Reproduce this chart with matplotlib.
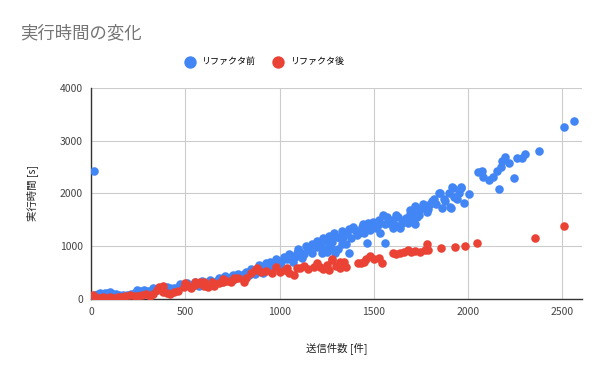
import matplotlib
matplotlib.use('Agg')
import matplotlib.pyplot as plt

plt.rcParams['font.family'] = ['Noto Sans CJK JP', 'DejaVu Sans']

# リファクタ前 (送信件数, 実行時間)
before_x = [5, 16, 20, 35, 48, 60, 75, 90, 101, 115, 130, 150, 170, 190, 210, 230, 243, 260, 280, 300,
            320, 349, 370, 390, 420, 437, 460, 480, 500, 520, 543, 560, 580, 600, 620, 649, 670, 702, 720,
            740, 773, 790, 810, 830, 862, 880, 900, 920, 950, 970, 990, 1021, 1040, 1060, 1092, 1110, 1130,
            1150, 1180, 1200, 1220, 1242, 1260, 1280, 1304, 1320, 1339, 1366, 1295, 1224, 1350, 1387, 1400,
            1410, 1437, 1450, 1463, 1480, 1490, 1498, 1520, 1534, 1548, 1562, 1580, 1596, 1610, 1631, 1640,
            1660, 1672, 1690, 1707, 1716, 1716, 1729, 1745, 1764, 1790, 1817, 1830, 1847, 1852, 1861, 1880,
            1897, 1905, 1911, 1914, 1918, 1923, 1940, 1962, 1964, 1981, 2003, 2052, 2074, 2079, 2114, 2132,
            2153, 2164, 2175, 2182, 2194, 2220, 2245, 2259, 2289, 2300, 2376, 2509, 2565,
            940, 1000, 1070, 1120, 1170, 1230, 1270, 1310, 1330, 1360, 1380, 1420, 1460, 1510, 1560, 1600,
            1650, 1680, 1700, 1740, 1780, 1800, 1870, 1950, 450, 530, 570, 610, 650, 690, 730, 760, 800,
            840, 870, 910, 960, 1250, 1280,
            330, 400, 470, 510, 550, 590, 630, 680, 710, 750, 780, 820, 850, 890, 930, 980, 1010, 1050,
            1080, 1100, 1140, 1170, 1200, 1230, 1260, 1290, 1330, 1370, 1440, 1470, 1530, 1570, 1620,
            1690, 1760, 1810]
before_y = [60, 2427, 80, 100, 108, 90, 120, 110, 127, 100, 90, 80, 70, 85, 100, 120, 171, 150, 170, 160,
            140, 171, 190, 200, 210, 203, 220, 250, 240, 260, 265, 300, 280, 300, 320, 328, 350, 392, 380,
            420, 455, 430, 470, 500, 550, 520, 600, 580, 707, 650, 720, 802, 760, 820, 866, 900, 850,
            950, 1024, 980, 1050, 1118, 1000, 1080, 1181, 1150, 1181, 866, 866, 866, 1050, 1371, 1300,
            1213, 1371, 1250, 1067, 1300, 1371, 1466, 1400, 1245, 1592, 1067, 1450, 1498, 1400, 1560, 1340,
            1500, 1530, 1620, 1625, 1763, 1416, 1560, 1700, 1782, 1700, 1890, 1800, 2003, 2015, 1720, 1850,
            2015, 1750, 1731, 2117, 2098, 1940, 1900, 2110, 2117, 1826, 1990, 2413, 2432, 2318, 2256, 2318,
            2432, 2080, 2497, 2622, 2698, 2572, 2288, 2666, 2680, 2749, 2806, 3267, 3374,
            550, 620, 700, 780, 880, 950, 1150, 950, 1050, 1250, 1150, 1250, 1400, 1350, 1420, 1350,
            1450, 1450, 1500, 1600, 1650, 1800, 1900, 2000, 180, 220, 240, 270, 300, 330, 360, 380, 400,
            450, 480, 500, 600, 900, 950,
            200, 230, 280, 300, 330, 340, 360, 400, 430, 460, 480, 520, 560, 640, 680, 750, 700, 850,
            800, 950, 1000, 1050, 1100, 1150, 1200, 1250, 1280, 1330, 1420, 1450, 1500, 1550, 1600,
            1680, 1800, 1850]

# リファクタ後
after_x = [10, 20, 40, 60, 80, 100, 120, 140, 160, 180, 207, 230, 250, 270, 290, 310, 330, 349, 360, 370,
           380, 400, 420, 440, 460, 490, 500, 510, 530, 550, 560, 579, 590, 600, 620, 650, 680, 702, 720,
           740, 760, 780, 809, 820, 880, 900, 930, 959, 980, 1000, 1030, 1050, 1074, 1090, 1109, 1150,
           1180, 1215, 1230, 1250, 1260, 1278, 1278, 1300, 1322, 1322, 1340, 1416, 1430, 1446, 1460, 1481,
           1500, 1525, 1543, 1601, 1620, 1640, 1660, 1684, 1700, 1720, 1746, 1770, 1782, 1790, 1858, 1932,
           1985, 2047, 2353, 2512,
           380, 550, 600, 640, 700, 760, 850, 870, 1040, 1130, 1200, 1350, 1320]
after_y = [76, 30, 20, 40, 25, 30, 20, 40, 30, 50, 76, 60, 50, 70, 90, 60, 100, 171, 230, 200,
           140, 120, 100, 130, 150, 233, 300, 260, 200, 270, 300, 328, 280, 250, 230, 250, 300, 328, 350,
           330, 380, 400, 328, 400, 582, 520, 530, 499, 600, 520, 550, 500, 455, 580, 582, 560,
           600, 613, 560, 640, 550, 739, 752, 620, 707, 582, 700, 677, 690, 707, 750, 815,
           760, 772, 677, 878, 860, 866, 900, 929, 900, 910, 897, 920, 1043, 929, 973, 992,
           1011, 1067, 1150, 1384,
           250, 330, 330, 320, 380, 400, 500, 550, 590, 620, 680, 600, 650]

x_ticks = [0, 500, 1000, 1500, 2000, 2500]
y_ticks = [0, 1000, 2000, 3000, 4000]

fig = plt.figure(figsize=(6, 3.71), dpi=100)
ax = fig.add_axes([0.152, 0.194, 0.818, 0.569])

ax.scatter(before_x, before_y, s=38, color='#4285F4', label='リファクタ前', zorder=3, linewidths=0)
ax.scatter(after_x, after_y, s=38, color='#EA4335', label='リファクタ後', zorder=4, linewidths=0)

ax.set_xlim(0, 2605)
ax.set_ylim(0, 4000)
ax.set_xticks(x_ticks)
ax.set_yticks(y_ticks)
ax.tick_params(length=0, labelsize=7.5, colors='#444444', pad=6)
ax.grid(True, color='#cccccc', linewidth=0.8, zorder=0)
ax.set_axisbelow(True)
for s in ['top', 'right']:
    ax.spines[s].set_visible(False)
for s in ['left', 'bottom']:
    ax.spines[s].set_color('#333333')
    ax.spines[s].set_linewidth(1.0)

ax.set_xlabel('送信件数 [件]', fontsize=7.5, color='#222222', labelpad=18)
ax.set_ylabel('実行時間 [s]', fontsize=7.5, color='#222222', labelpad=16)

fig.text(0.033, 0.91, '実行時間の変化', fontsize=12.5, color='#757575', va='center')
fig.legend(loc='center', bbox_to_anchor=(0.437, 0.833), ncol=2, frameon=False, fontsize=6.5,
           handletextpad=0.3, columnspacing=1.5, markerscale=1.45)

fig.savefig('out.png', dpi=100)
